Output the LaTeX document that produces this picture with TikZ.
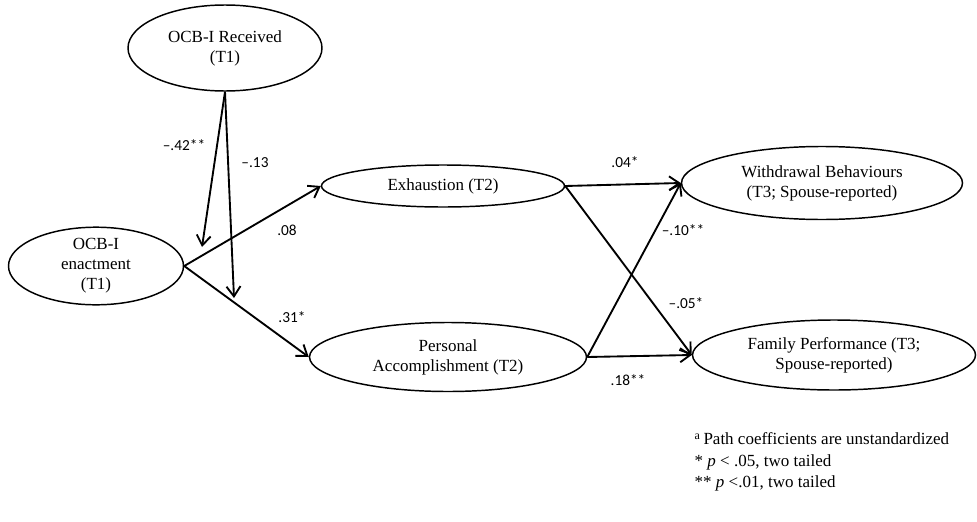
\documentclass[tikz,border=0pt]{standalone}
\usepackage{fontspec}
\setmainfont{Liberation Serif}
\newfontfamily\coeffont[Ligatures=TeX]{Carlito}
\usetikzlibrary{shapes.geometric,arrows.meta}

\tikzset{
  latent/.style={draw, ellipse, line width=1.1pt, inner sep=0pt, align=center,
    font=\fontsize{12.75}{15}\selectfont},
  coef/.style={font=\coeffont\fontsize{11.5}{13}\selectfont},
  effect/.style={->, >={Straight Barb[length=7.5pt,width=10.5pt]}, line width=1.4pt}
}

\begin{document}
\begin{tikzpicture}[x=0.75pt,y=-0.75pt]
\useasboundingbox (0,0) rectangle (977,521);

% constructs
\node[latent, minimum width=145.5pt, minimum height=64.5pt] (received) at (225,48) {OCB-I Received\\(T1)};
\node[latent, minimum width=131.25pt, minimum height=54.75pt] (enact) at (96,266) {OCB-I\\enactment\\(T1)};
\node[latent, minimum width=182.25pt, minimum height=31.5pt] (exhaust) at (443,186) {Exhaustion (T2)};
\node[latent, minimum width=207.75pt, minimum height=51.75pt] (accomp) at (448,357) {Personal\\Accomplishment (T2)};
\node[latent, minimum width=210.75pt, minimum height=54.75pt] (withdraw) at (822,183) {Withdrawal Behaviours\\(T3; Spouse-reported)};
\node[latent, minimum width=212.25pt, minimum height=52.5pt] (family) at (834,355) {Family Performance (T3;\\Spouse-reported)};

% moderation targets
\coordinate (mod1) at (202,247);
\coordinate (mod2) at (234,298);

% paths
\draw[effect] (received.south) -- (mod1);
\draw[effect] (received.south) -- (mod2);
\draw[effect] (enact.east) -- (exhaust.west);
\draw[effect] (enact.east) -- (accomp.west);
\draw[effect] (exhaust.east) -- (withdraw.west);
\draw[effect] (exhaust.east) -- (family.west);
\draw[effect] (accomp.east) -- (withdraw.west);
\draw[effect] (accomp.east) -- (family.west);

% coefficients
\node[coef] (c1) at (184,145) {--.42**};
\node[coef] (c2) at (255,163) {--.13};
\node[coef] (c3) at (287,230) {.08};
\node[coef] (c4) at (292,317) {.31*};
\node[coef] (c5) at (625,162) {.04*};
\node[coef] (c6) at (683,230) {--.10**};
\node[coef] (c7) at (686,303) {--.05*};
\node[coef] (c8) at (628,380) {.18**};

% notes
\node[anchor=west, align=left, font=\fontsize{12.75}{16}\selectfont] (notes) at (690,462)
  {\textsuperscript{a}\,Path coefficients are unstandardized\\
   * \textit{p} < .05, two tailed\\
   ** \textit{p} <.01, two tailed};
\end{tikzpicture}
\end{document}
